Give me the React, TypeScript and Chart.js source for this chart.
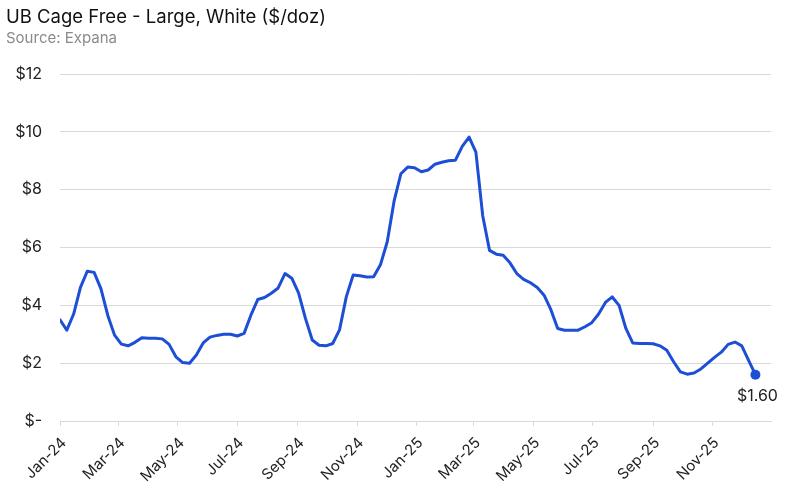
import React, { useEffect, useRef } from "react";
import { Chart, registerables } from "chart.js";

Chart.register(...registerables);

const TITLE = "UB Cage Free - Large, White ($/doz)";
const SUBTITLE = "Source: Expana";

// Weekly observations starting at this date
const FIRST_WEEK = "2024-01-01";
const AXIS_START = "2024-01-01";
const AXIS_END = "2025-12-31";

// Price ($/doz), one value per week
const prices: number[] = [
  3.5, 3.14, 3.7, 4.62, 5.18, 5.14, 4.58, 3.66, 2.97, 2.66,
  2.6, 2.72, 2.88, 2.86, 2.86, 2.84, 2.65, 2.22, 2.02, 2.0,
  2.28, 2.7, 2.9, 2.96, 3.0, 3.0, 2.94, 3.03, 3.66, 4.2,
  4.27, 4.42, 4.6, 5.1, 4.94, 4.42, 3.55, 2.8, 2.62, 2.6,
  2.68, 3.15, 4.3, 5.05, 5.02, 4.98, 4.99, 5.4, 6.2, 7.6,
  8.55, 8.78, 8.76, 8.62, 8.68, 8.88, 8.95, 9.0, 9.02, 9.5,
  9.82, 9.3, 7.1, 5.9, 5.77, 5.73, 5.47, 5.1, 4.9, 4.78,
  4.62, 4.35, 3.85, 3.2, 3.14, 3.14, 3.14, 3.26, 3.4, 3.7,
  4.1, 4.29, 4.0, 3.2, 2.7, 2.68, 2.68, 2.67, 2.6, 2.45,
  2.05, 1.7, 1.62, 1.66, 1.8, 2.0, 2.2, 2.38, 2.65, 2.73,
  2.6, 2.1, 1.6,
];

// X-axis tick labels and their dates
const tickLabels: string[] = [
  "Jan-24", "Mar-24", "May-24", "Jul-24", "Sep-24", "Nov-24",
  "Jan-25", "Mar-25", "May-25", "Jul-25", "Sep-25", "Nov-25",
];
const tickDates: string[] = [
  "2024-01-01", "2024-03-01", "2024-05-01", "2024-07-01", "2024-09-01", "2024-11-01",
  "2025-01-01", "2025-03-01", "2025-05-01", "2025-07-01", "2025-09-01", "2025-11-01",
];

const yTicks: number[] = [0, 2, 4, 6, 8, 10, 12];

const DAY = 86400000;
const toDay = (iso: string) =>
  Math.round((Date.parse(iso + "T00:00:00Z") - Date.parse(AXIS_START + "T00:00:00Z")) / DAY);

const LINE_COLOR = "#1c4fd6";
const GRID_COLOR = "#d9d9d9";
const TEXT_COLOR = "#222222";
const FONT = 'Inter, "Open Sans", Arial, sans-serif';

export default function App() {
  const canvasRef = useRef<HTMLCanvasElement | null>(null);

  useEffect(() => {
    const canvas = canvasRef.current;
    if (!canvas) return;
    const start = toDay(FIRST_WEEK);
    const points = prices.map((v, i) => ({ x: start + i * 7, y: v }));
    const tickValues = tickDates.map(toDay);
    const lastIndex = points.length - 1;

    const lastLabel = {
      id: "lastLabel",
      afterDatasetsDraw(chart: any) {
        const meta = chart.getDatasetMeta(0);
        const el = meta.data[lastIndex];
        if (!el) return;
        const ctx = chart.ctx;
        ctx.save();
        ctx.font = `16px ${FONT}`;
        ctx.fillStyle = TEXT_COLOR;
        ctx.textAlign = "center";
        ctx.textBaseline = "middle";
        ctx.fillText("$" + prices[lastIndex].toFixed(2), el.x + 2, el.y + 21);
        ctx.restore();
      },
    };

    const chart = new Chart(canvas, {
      type: "line",
      data: {
        datasets: [
          {
            data: points,
            borderColor: LINE_COLOR,
            backgroundColor: LINE_COLOR,
            borderWidth: 3,
            tension: 0,
            borderJoinStyle: "round",
            borderCapStyle: "round",
            pointRadius: (c: any) => (c.dataIndex === lastIndex ? 5 : 0),
            pointHoverRadius: 0,
            pointBorderWidth: 0,
            pointBackgroundColor: LINE_COLOR,
          },
        ],
      },
      options: {
        responsive: false,
        animation: false,
        layout: { padding: { top: 74, right: 29, bottom: 0, left: 0 } },
        plugins: {
          legend: { display: false },
          tooltip: { enabled: false },
          title: { display: false },
        },
        scales: {
          x: {
            type: "linear",
            min: toDay(AXIS_START),
            max: toDay(AXIS_END),
            afterBuildTicks: (scale: any) => {
              scale.ticks = tickValues.map((v) => ({ value: v }));
            },
            afterFit: (scale: any) => {
              scale.height = 75;
            },
            grid: {
              drawOnChartArea: false,
              drawTicks: true,
              tickLength: 5,
              color: GRID_COLOR,
            },
            border: { display: true, color: GRID_COLOR },
            ticks: {
              autoSkip: false,
              maxRotation: 45,
              minRotation: 45,
              padding: 8,
              labelOffset: 4,
              color: TEXT_COLOR,
              font: { family: FONT, size: 15 },
              callback: (_v: any, i: number) => tickLabels[i],
            },
          },
          y: {
            min: 0,
            max: 12,
            afterBuildTicks: (scale: any) => {
              scale.ticks = yTicks.map((v) => ({ value: v }));
            },
            afterFit: (scale: any) => {
              scale.width = 60;
            },
            grid: { color: GRID_COLOR, drawTicks: false, lineWidth: 1 },
            border: { display: false },
            ticks: {
              padding: 18,
              color: TEXT_COLOR,
              font: { family: FONT, size: 16 },
              callback: (v: any) => (v === 0 ? "$-" : "$" + v),
            },
          },
        },
      },
      plugins: [lastLabel],
    } as any);

    return () => chart.destroy();
  }, []);

  return (
    <div
      style={{
        position: "fixed",
        left: 0,
        top: 0,
        width: 800,
        height: 496,
        background: "#ffffff",
        overflow: "hidden",
      }}
    >
      <canvas
        ref={canvasRef}
        width={800}
        height={496}
        style={{ position: "absolute", left: 0, top: 0, width: 800, height: 496 }}
      />
      <div
        style={{
          position: "absolute",
          left: 6,
          top: 4,
          fontFamily: FONT,
          fontSize: 18.5,
          color: "#111111",
          lineHeight: "24px",
          whiteSpace: "nowrap",
        }}
      >
        {TITLE}
      </div>
      <div
        style={{
          position: "absolute",
          left: 6,
          top: 28,
          fontFamily: FONT,
          fontSize: 15,
          color: "#8a8a8a",
          lineHeight: "20px",
          whiteSpace: "nowrap",
        }}
      >
        {SUBTITLE}
      </div>
    </div>
  );
}
